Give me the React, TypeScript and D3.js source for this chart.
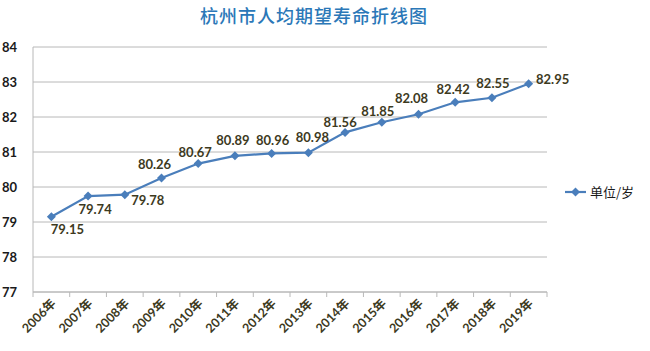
import React from "react";
import * as d3 from "d3";

const years = ["2006年","2007年","2008年","2009年","2010年","2011年","2012年","2013年","2014年","2015年","2016年","2017年","2018年","2019年"];
const lifeExpectancy = [79.15,79.74,79.78,80.26,80.67,80.89,80.96,80.98,81.56,81.85,82.08,82.42,82.55,82.95];
const labelOffsetX = [16,7,23,-7,-3,-2,1,4,-5,-4,-7,-2,1,24];
const labelOffsetY = [13,13,6,-13,-11,-15,-13,-15,-10,-11,-16,-13,-14,-4];
const yTicks = [77,78,79,80,81,82,83,84];
const title = "杭州市人均期望寿命折线图";
const legendLabel = "单位/岁";

const W = 650, H = 351;
const left = 33, right = 547, top = 47, bottom = 292;
const lineColor = "#4a7ebb";
const textColor = "#3d3a1e";

export default function App() {
  const x = d3.scaleBand<string>().domain(years).range([left, right]);
  const y = d3.scaleLinear().domain([77, 84]).range([bottom, top]);
  const cx = (i: number) => (x(years[i]) as number) + x.bandwidth() / 2;
  const line = d3.line<number>().x((_, i) => cx(i)).y((d) => y(d));
  const diamond = (px: number, py: number, r = 4.5) =>
    `M${px},${py - r}L${px + r},${py}L${px},${py + r}L${px - r},${py}Z`;
  const boundaries = years.map((yr) => x(yr) as number).concat([right]);

  return (
    <div style={{ position: "fixed", left: 0, top: 0 }}>
      <svg width={W} height={H} style={{ display: "block", background: "#fff" }}>
        <text x={314} y={23} textAnchor="middle" fontFamily="'Noto Sans CJK SC'" fontWeight={500} fontSize={18} fill="#2b78b8" letterSpacing={1}>{title}</text>
        {yTicks.map((t) => (
          <g key={t}>
            <line x1={left} x2={right} y1={y(t)} y2={y(t)} stroke="#b8b8b8" strokeWidth={1} />
            <text x={17} y={y(t) + 4.5} textAnchor="end" fontFamily="Lato, 'Liberation Sans'" fontWeight={700} fontSize={13} fill="#1a1a1a">{t}</text>
          </g>
        ))}
        <line x1={left} x2={left} y1={top} y2={bottom} stroke="#b8b8b8" />
        <line x1={left} x2={right} y1={bottom} y2={bottom} stroke="#b8b8b8" />
        {boundaries.map((b, i) => (
          <line key={i} x1={b} x2={b} y1={bottom} y2={bottom + 5} stroke="#b8b8b8" />
        ))}
        {years.map((yr, i) => (
          <text key={yr} transform={`translate(${cx(i) + 3},${bottom + 10}) rotate(-45)`} textAnchor="end" dominantBaseline="middle" fontFamily="Lato, 'Noto Sans CJK SC'" fontWeight={700} fontSize={12.5} fill={textColor}>{yr}</text>
        ))}
        <path d={line(lifeExpectancy) ?? ""} fill="none" stroke={lineColor} strokeWidth={2.2} />
        {lifeExpectancy.map((v, i) => (
          <path key={i} d={diamond(cx(i), y(v))} fill={lineColor} />
        ))}
        {lifeExpectancy.map((v, i) => (
          <text key={"l" + i} x={cx(i) + labelOffsetX[i]} y={y(v) + labelOffsetY[i] + 4.5} textAnchor="middle" fontFamily="Lato, 'Liberation Sans'" fontWeight={700} fontSize={13} fill={textColor}>{v.toFixed(2)}</text>
        ))}
        <line x1={565} x2={586} y1={192} y2={192} stroke={lineColor} strokeWidth={2.2} />
        <path d={diamond(575.5, 192)} fill={lineColor} />
        <text x={590} y={197} fontFamily="'Noto Sans CJK SC'" fontSize={13} fill="#1a1a1a">{legendLabel}</text>
      </svg>
    </div>
  );
}
